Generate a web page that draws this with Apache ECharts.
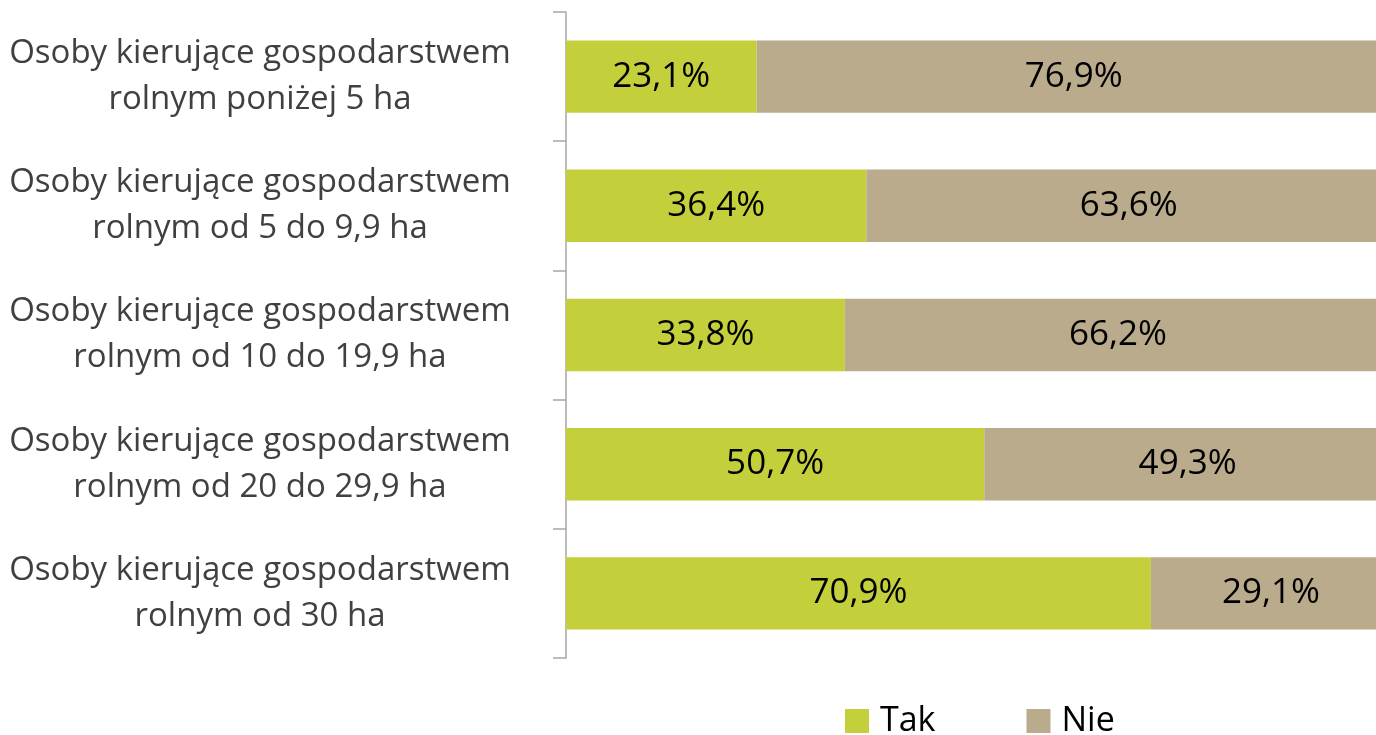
<!DOCTYPE html>
<html>
<head>
<meta charset="utf-8">
<title>Tak / Nie</title>
<script src="https://cdn.jsdelivr.net/npm/echarts@6/dist/echarts.min.js"></script>
<style>
  html, body { margin: 0; padding: 0; background: #fff; }
  #main { width: 1376px; height: 735px; }
</style>
</head>
<body>
<div id="main"></div>
<script>
// dane
const categories = [
  'Osoby kierujące gospodarstwem\nrolnym poniżej 5 ha',
  'Osoby kierujące gospodarstwem\nrolnym od 5 do 9,9 ha',
  'Osoby kierujące gospodarstwem\nrolnym od 10 do 19,9 ha',
  'Osoby kierujące gospodarstwem\nrolnym od 20 do 29,9 ha',
  'Osoby kierujące gospodarstwem\nrolnym od 30 ha'
];
const takValues = [23.1, 36.4, 33.8, 50.7, 70.9];
const nieValues = [76.9, 63.6, 66.2, 49.3, 29.1];

const FONT = 'Open Sans';
const pct = (p) => p.value.toFixed(1).replace('.', ',') + '%';

const chart = echarts.init(document.getElementById('main'));
chart.setOption({
  animation: false,
  textStyle: { fontFamily: FONT },
  // wykres jest przycięty z prawej strony, więc siatka wychodzi poza kadr
  grid: { left: 566, width: 825, top: 12, bottom: 77, containLabel: false, outerBoundsMode: 'none' },
  legend: {
    left: 845,
    top: 704,
    padding: 0,
    itemWidth: 24,
    itemHeight: 24,
    itemGap: 91,
    icon: 'rect',
    textStyle: { fontSize: 34, lineHeight: 34, color: '#000', padding: [0, 0, 0, 6], fontFamily: FONT },
    data: ['Tak', 'Nie']
  },
  xAxis: {
    type: 'value',
    min: 0,
    max: 100,
    show: false
  },
  yAxis: {
    type: 'category',
    inverse: true,
    data: categories,
    axisLine: { show: true, lineStyle: { color: '#a6a6a6', width: 1.5 } },
    axisTick: { show: true, length: 13, lineStyle: { color: '#a6a6a6', width: 1.5 } },
    axisLabel: {
      fontSize: 33,
      lineHeight: 46,
      color: '#404040',
      align: 'center',
      margin: 306,
      padding: [5, 0, 0, 0],
      fontFamily: FONT
    }
  },
  series: [
    {
      name: 'Tak',
      type: 'bar',
      stack: 'all',
      barWidth: '56%',
      data: takValues,
      itemStyle: { color: '#c3d03b' },
      label: { show: true, position: 'inside', formatter: pct, fontSize: 35, color: '#000', fontFamily: FONT }
    },
    {
      name: 'Nie',
      type: 'bar',
      stack: 'all',
      barWidth: '56%',
      data: nieValues,
      itemStyle: { color: '#b9ab8c' },
      label: { show: true, position: 'inside', formatter: pct, fontSize: 35, color: '#000', fontFamily: FONT }
    }
  ]
});
</script>
</body>
</html>
